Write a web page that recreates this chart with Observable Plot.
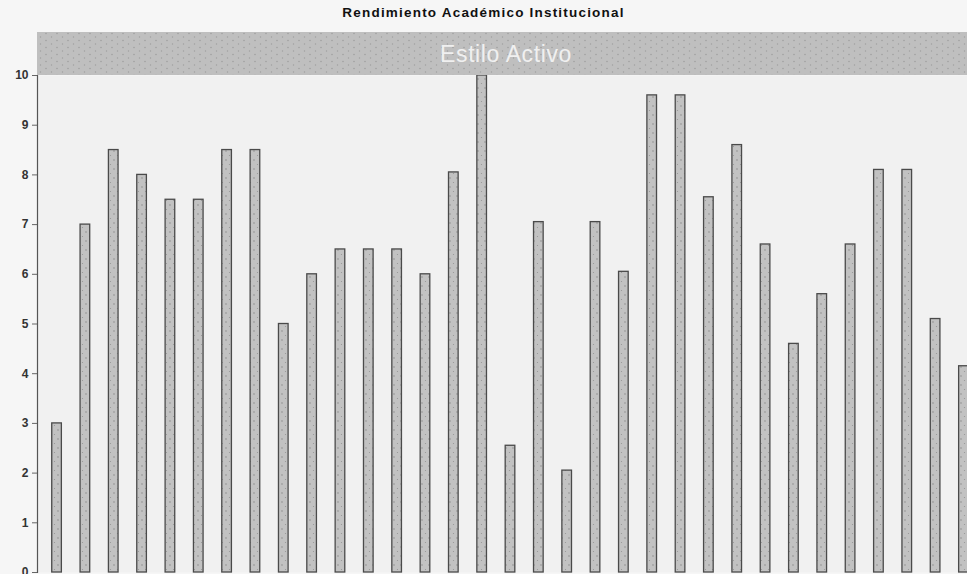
<!DOCTYPE html>
<html>
<head>
<meta charset="utf-8">
<script src="https://cdn.jsdelivr.net/npm/d3@7"></script>
<script src="https://cdn.jsdelivr.net/npm/@observablehq/plot@0.6"></script>
<style>
  html, body { margin: 0; padding: 0; background: #f6f6f6; overflow: hidden; }
  #wrap { width: 967px; height: 574px; overflow: hidden; position: relative; }
  #title { height: 32px; width: 967px; text-align: center; font: bold 13.5px "Liberation Sans", Arial, sans-serif; color: #111; line-height: 25px; letter-spacing: 1.2px; white-space: nowrap; }
  #chart svg { display: block; max-width: none !important; }
</style>
</head>
<body>
<div id="wrap">
  <div id="title">Rendimiento Académico Institucional</div>
  <div id="chart"></div>
</div>
<script>
const categories = Array.from({length: 33}, (_, i) => `Grupo ${i + 1}`);
const values = [3, 7, 8.5, 8, 7.5, 7.5, 8.5, 8.5, 5, 6, 6.5, 6.5, 6.5, 6, 8.05, 10, 2.55, 7.05, 2.05, 7.05, 6.05, 9.6, 9.6, 7.55, 8.6, 6.6, 4.6, 5.6, 6.6, 8.1, 8.1, 5.1, 4.15];
const yTicks = [0, 1, 2, 3, 4, 5, 6, 7, 8, 9, 10];
const bannerLabel = "Estilo Activo";

const data = categories.map((c, i) => ({categoria: c, valor: values[i]}));

const defsMark = () => {
  const g = d3.create("svg:g");
  const defs = g.append("defs");
  const p1 = defs.append("pattern").attr("id", "dotsBar").attr("patternUnits", "userSpaceOnUse").attr("width", 7).attr("height", 9);
  p1.append("rect").attr("width", 7).attr("height", 9).attr("fill", "#c2c2c2");
  p1.append("circle").attr("cx", 2).attr("cy", 2).attr("r", 0.7).attr("fill", "#858585");
  p1.append("circle").attr("cx", 5.5).attr("cy", 6.5).attr("r", 0.6).attr("fill", "#959595");
  const p2 = defs.append("pattern").attr("id", "dotsBanner").attr("patternUnits", "userSpaceOnUse").attr("width", 11).attr("height", 7);
  p2.append("rect").attr("width", 11).attr("height", 7).attr("fill", "#bfbfbf");
  p2.append("circle").attr("cx", 2).attr("cy", 1.5).attr("r", 0.7).attr("fill", "#999");
  p2.append("circle").attr("cx", 7.5).attr("cy", 5).attr("r", 0.7).attr("fill", "#a0a0a0");
  return g.node();
};

const bannerMark = (index, scales, vals, dims) => {
  const g = d3.create("svg:g");
  g.append("rect")
    .attr("x", dims.marginLeft).attr("y", 0)
    .attr("width", dims.width - dims.marginLeft)
    .attr("height", dims.marginTop)
    .attr("fill", "url(#dotsBanner)");
  g.append("text")
    .attr("x", (dims.marginLeft + dims.width) / 2 - 4)
    .attr("y", dims.marginTop / 2)
    .attr("dy", "0.35em")
    .attr("text-anchor", "middle")
    .attr("fill", "#f0f0f0")
    .attr("font-family", "'Liberation Sans', Arial, sans-serif")
    .attr("font-size", 23)
    .attr("letter-spacing", 0.6)
    .text(bannerLabel);
  return g.node();
};

const chart = Plot.plot({
  width: 983,
  height: 542,
  marginLeft: 37,
  marginRight: 0,
  marginTop: 43,
  marginBottom: 2,
  style: {background: "transparent", fontFamily: "'Liberation Sans', Arial, sans-serif", fontSize: "12px", color: "#333", maxWidth: "none"},
  x: {domain: categories, paddingInner: 0.66, paddingOuter: 0.52, round: false, axis: null},
  y: {domain: [0, 10]},
  marks: [
    defsMark,
    Plot.frame({fill: "#f1f1f1", stroke: null}),
    Plot.barY(data, {x: "categoria", y: "valor", fill: "url(#dotsBar)", stroke: "#4a4a4a", strokeWidth: 1.3}),
    bannerMark,
    Plot.frame({anchor: "left", stroke: "#555", strokeWidth: 1.2}),
    Plot.axisY({ticks: yTicks, tickSize: 5, tickPadding: 4, label: null, stroke: "#666", fill: "#333", fontSize: 12, fontWeight: "bold"})
  ]
});
document.getElementById("chart").appendChild(chart);
</script>
</body>
</html>
